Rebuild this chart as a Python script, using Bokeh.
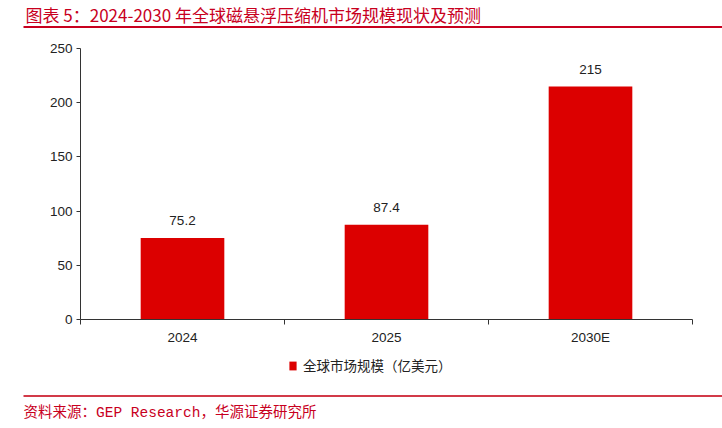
from bokeh.plotting import figure
from bokeh.models import (Range1d, FixedTicker, ColumnDataSource, LabelSet, Label,
                          BoxAnnotation, Legend, LegendItem)
from bokeh.core.properties import value
from bokeh.embed import file_html
from bokeh.resources import INLINE

# ---- data ----
categories = ["2024", "2025", "2030E"]
market_size = [75.2, 87.4, 215]
y_ticks = [0, 50, 100, 150, 200, 250]
title_text = "图表 5：2024-2030 年全球磁悬浮压缩机市场规模现状及预测"
legend_label = "全球市场规模（亿美元）"
source_text = "资料来源：GEP Research，华源证券研究所"

# ---- styles / layout (pixels) ----
BAR = "#dc0000"
RED = "#c8001e"
LINE_RED = "#d23a48"
AX = "#333333"
TXT = "#222222"
SANS = "Liberation Sans"
CJK = "Noto Sans CJK SC"
W, H = 722, 428
PLOT_L, PLOT_R, PLOT_T, PLOT_B = 80, 692, 48, 319   # plotting area inside the canvas
Y_MAX = 250

n = len(categories)
centers = [i + 0.5 for i in range(n)]
px_x = (PLOT_R - PLOT_L) / n
px_y = (PLOT_B - PLOT_T) / Y_MAX
x_range = Range1d(-PLOT_L / px_x, n + (W - PLOT_R) / px_x)
y_range = Range1d(-(H - PLOT_B) / px_y, PLOT_B / px_y)

p = figure(width=W, height=H, x_range=x_range, y_range=y_range,
           output_backend="svg", toolbar_location=None, title=None, min_border=0)
p.outline_line_color = None
p.background_fill_color = "white"
p.border_fill_color = "white"
p.grid.visible = False

src = ColumnDataSource(dict(x=centers, val=market_size,
                            txt=["{:g}".format(v) for v in market_size]))
bars = p.vbar(x="x", top="val", bottom=0, width=0.41, source=src,
              fill_color=BAR, line_color=None)

p.add_layout(LabelSet(x="x", y="val", text="txt", source=src, y_offset=17,
                      text_align="center", text_baseline="middle",
                      text_font=value(SANS), text_font_size="13.5px", text_color=TXT))

ya = p.yaxis[0]
ya.fixed_location = 0
ya.bounds = (0, Y_MAX)
ya.ticker = FixedTicker(ticks=y_ticks)
ya.axis_line_color = AX
ya.major_tick_line_color = AX
ya.major_tick_in = 0
ya.major_tick_out = 4
ya.minor_tick_line_color = None
ya.major_label_standoff = 4
ya.major_label_text_font = SANS
ya.major_label_text_font_size = "13.5px"
ya.major_label_text_color = TXT

xa = p.xaxis[0]
xa.fixed_location = 0
xa.bounds = (0, n)
xa.ticker = FixedTicker(ticks=centers, minor_ticks=list(range(n + 1)))
xa.major_label_overrides = {c: lab for c, lab in zip(centers, categories)}
xa.axis_line_color = AX
xa.major_tick_line_color = None
xa.major_tick_in = 0
xa.major_tick_out = 0
xa.minor_tick_line_color = AX
xa.minor_tick_in = 0
xa.minor_tick_out = 5
xa.major_label_standoff = 5
xa.major_label_text_font = SANS
xa.major_label_text_font_size = "13.5px"
xa.major_label_text_color = TXT

# legend (screen units from bottom-left of canvas)
legend = Legend(items=[LegendItem(label=legend_label, renderers=[bars])],
                location=(288, H - 375), orientation="horizontal",
                padding=0, margin=0, spacing=0,
                glyph_width=9, glyph_height=11, label_height=11, label_standoff=6,
                label_text_font=CJK, label_text_font_size="13.5px", label_text_color=TXT,
                border_line_color=None, background_fill_alpha=0)
p.add_layout(legend)

def box(l, r, t, b, color):
    return BoxAnnotation(left=l, right=r, top=H - t, bottom=H - b,
                         left_units="screen", right_units="screen",
                         top_units="screen", bottom_units="screen",
                         fill_color=color, fill_alpha=1, line_color=None)

# header
p.add_layout(Label(x=25, y=H - 14, x_units="screen", y_units="screen", text=title_text,
                   text_baseline="middle", text_font=CJK, text_font_size="17px",
                   text_color=RED))
p.add_layout(box(23, W, 25.5, 27.5, RED))
# footer
p.add_layout(box(23, W, 394.5, 396.5, LINE_RED))
p.add_layout(Label(x=23, y=H - 412, x_units="screen", y_units="screen", text=source_text,
                   text_baseline="middle", text_font="Liberation Mono, Noto Sans CJK SC",
                   text_font_size="14.5px", text_color=RED))

open("out.html", "w").write(file_html(p, INLINE))
